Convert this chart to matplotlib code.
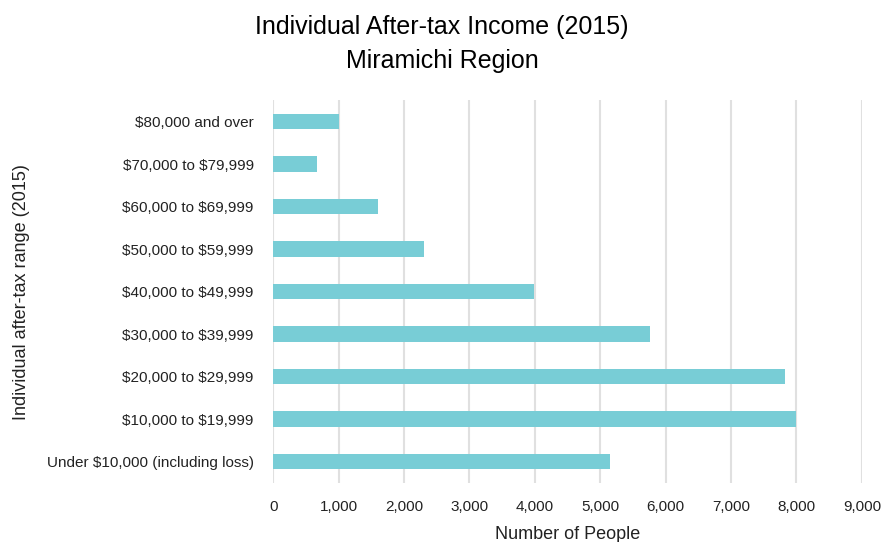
import matplotlib.pyplot as plt

plt.rcParams['font.family'] = ['Liberation Sans', 'DejaVu Sans']

# income brackets, bottom to top
ranges = [
    "Under $10,000 (including loss)",
    "$10,000 to $19,999",
    "$20,000 to $29,999",
    "$30,000 to $39,999",
    "$40,000 to $49,999",
    "$50,000 to $59,999",
    "$60,000 to $69,999",
    "$70,000 to $79,999",
    "$80,000 and over",
]
people = [5150, 7985, 7820, 5765, 3980, 2300, 1600, 670, 1005]
x_ticks = [0, 1000, 2000, 3000, 4000, 5000, 6000, 7000, 8000, 9000]

fig = plt.figure(figsize=(8.84, 5.42), dpi=100)
ax = fig.add_axes([0.309, 0.109, 0.666, 0.706])

pos = list(range(len(ranges)))
ax.barh(pos, people, height=0.36, color='#78cdd6', zorder=3)

ax.set_xlim(0, 9000)
ax.set_ylim(-0.5, len(ranges) - 0.5)
ax.set_xticks(x_ticks)
ax.set_xticklabels([f"{v:,}" for v in x_ticks])
ax.set_yticks(pos)
# escape $ so the labels are not read as mathtext
ax.set_yticklabels([r.replace("$", r"\$") for r in ranges], fontsize=11.5)

ax.grid(axis='x', color='#e0e0e0', linewidth=1.5, zorder=0)
for s in ax.spines.values():
    s.set_visible(False)
ax.tick_params(axis='both', length=0, labelsize=11, colors='#222222')
ax.tick_params(axis='x', pad=12)
ax.tick_params(axis='y', pad=14)

ax.set_xlabel("Number of People", fontsize=13, color='#222222', labelpad=9)
ax.set_ylabel("Individual after-tax range (2015)", fontsize=13, color='#222222', labelpad=12)

fig.text(0.5, 0.95, "Individual After-tax Income (2015)", ha='center', va='center', fontsize=18)
fig.text(0.5, 0.887, "Miramichi Region", ha='center', va='center', fontsize=18)

fig.savefig('out.png', dpi=100, facecolor='white')
